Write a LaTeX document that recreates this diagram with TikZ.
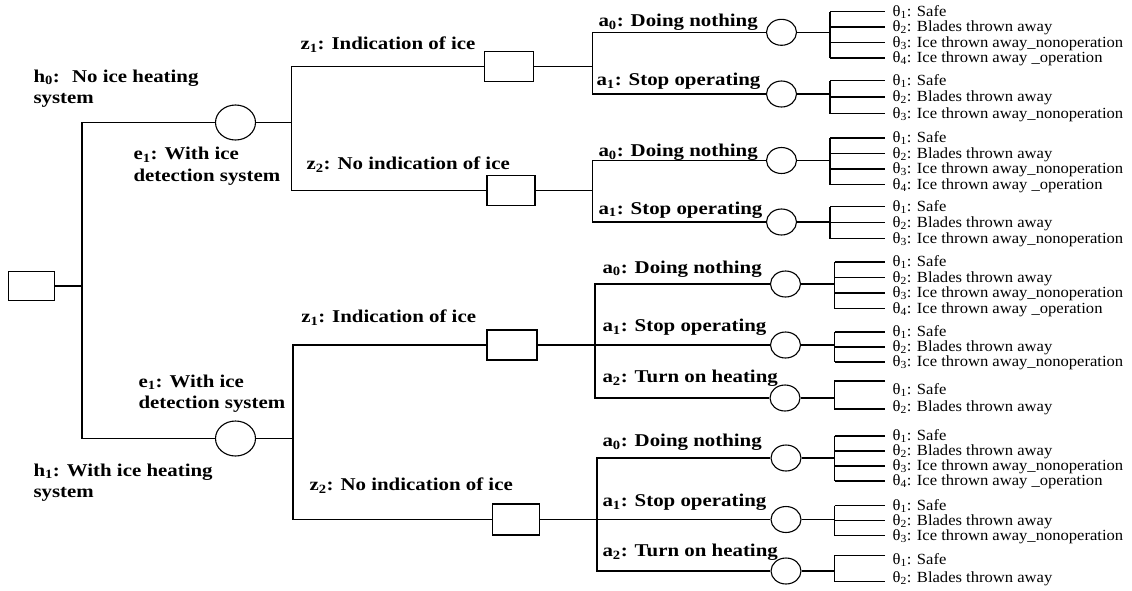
\documentclass[tikz,border=0pt]{standalone}
\usepackage{fontspec}
\setmainfont{Liberation Serif}
\newfontfamily\lblfont[FakeStretch=1.16]{Liberation Serif}
\newfontfamily\thfont[FakeStretch=1.07]{Liberation Serif}
\usetikzlibrary{shapes.geometric}
\newcommand{\thtext}[1]{\ifcase#1\relax\or θ\textsubscript{1}: Safe\or θ\textsubscript{2}: Blades thrown away\or θ\textsubscript{3}: Ice thrown away\_nonoperation\or θ\textsubscript{4}: Ice thrown away \_operation\fi}
\newcommand{\outgrp}[5]{%
  \coordinate (#1b) at (#3,0);
  \foreach \yy [count=\k] in {#4} {\node[th] (#1t\k) at (885,\yy) {\thtext{\k}};}
  \draw (#2) -- (#2 -| #1b);
  \foreach \yy [count=\k] in {#4} {\draw (#1b |- #1t\k.west) -- (#1t\k.west);}
  \draw (#1b |- #1t1.west) -- (#1b |- #1t#5.west);
}
\begin{document}
\begin{tikzpicture}[x=1pt,y=-1pt,line width=1.1pt,
  dec/.style={draw,rectangle,minimum width=48pt,minimum height=30pt,inner sep=0pt},
  bigc/.style={draw,ellipse,minimum width=40pt,minimum height=35pt,inner sep=0pt},
  smc/.style={draw,ellipse,minimum width=30pt,minimum height=26pt,inner sep=0pt},
  lbl/.style={font=\lblfont\bfseries\fontsize{18}{21.6}\selectfont,inner sep=0pt,anchor=base west},
  lbltwo/.style={font=\lblfont\bfseries\fontsize{18}{21.6}\selectfont,inner sep=0pt,anchor=west,align=left},
  th/.style={font=\thfont\fontsize{15.5}{17}\selectfont,anchor=west,inner xsep=7pt,inner ysep=0pt,text height=11pt,text depth=2pt}]
\useasboundingbox (0,0) rectangle (1132,590);
% root
\node[dec,minimum width=46pt,minimum height=29pt] (root) at (31.5,286) {};
\coordinate (j0) at (82,286);
\node[bigc] (eU) at (235.5,122.5) {};
\node[bigc] (eL) at (235.5,438.5) {};
\draw (root) -- (j0);
\draw (eU) -| (j0) |- (eL);
% upper
\coordinate (jU) at (291.7,122.5);
\node[dec,minimum width=49pt] (zU1) at (509,66.7) {};
\node[dec] (zU2) at (511,190.5) {};
\draw (eU) -- (jU);
\draw (zU1) -| (jU) |- (zU2);
\coordinate (jUT) at (592.3,66.7);
\node[smc] (aUT0) at (781.5,32.3) {};
\node[smc] (aUT1) at (781.5,94) {};
\draw (zU1) -- (jUT);
\draw (aUT0) -| (jUT) |- (aUT1);
\coordinate (jUB) at (592.3,190.5);
\node[smc] (aUB0) at (781.5,160.5) {};
\node[smc] (aUB1) at (781.5,222) {};
\draw (zU2) -- (jUB);
\draw (aUB0) -| (jUB) |- (aUB1);
% lower
\coordinate (jL) at (293,438.5);
\node[dec,minimum width=50pt] (zL1) at (512,345) {};
\node[dec,minimum width=47pt,minimum height=31pt] (zL2) at (515.7,519.5) {};
\draw (eL) -- (jL);
\draw (zL1) -| (jL) |- (zL2);
\coordinate (jLT) at (595,345);
\node[smc] (aLT0) at (785.5,284) {};
\node[smc] (aLT1) at (785.5,345) {};
\node[smc] (aLT2) at (785,398) {};
\draw (zL1) -- (aLT1);
\draw (aLT0) -| (jLT) |- (aLT2);
\coordinate (jLB) at (597,519.5);
\node[smc] (aLB0) at (786,458) {};
\node[smc] (aLB1) at (786,519.5) {};
\node[smc] (aLB2) at (786,571) {};
\draw (zL2) -- (aLB1);
\draw (aLB0) -| (jLB) |- (aLB2);
% labels
\node[lbltwo] (lh0) at (33,88.5) {h\textsubscript{0}:~ No ice heating\\system};
\node[lbltwo] (le1U) at (133,166) {e\textsubscript{1}: With ice\\detection system};
\node[lbltwo] (le1L) at (138,393.5) {e\textsubscript{1}: With ice\\detection system};
\node[lbltwo] (lh1) at (33,482.5) {h\textsubscript{1}: With ice heating\\system};
\node[lbl] (lzU1) at (300,49.8) {z\textsubscript{1}: Indication of ice};
\node[lbl] (lzU2) at (306,169.5) {z\textsubscript{2}: No indication of ice};
\node[lbl] (lzL1) at (300.7,322.8) {z\textsubscript{1}: Indication of ice};
\node[lbl] (lzL2) at (309,490.5) {z\textsubscript{2}: No indication of ice};
\node[lbl] (laUT0) at (598,26.5) {a\textsubscript{0}: Doing nothing};
\node[lbl] (laUT1) at (596,85.5) {a\textsubscript{1}: Stop operating};
\node[lbl] (laUB0) at (598,156.7) {a\textsubscript{0}: Doing nothing};
\node[lbl] (laUB1) at (598,214) {a\textsubscript{1}: Stop operating};
\node[lbl] (laLT0) at (602,273) {a\textsubscript{0}: Doing nothing};
\node[lbl] (laLT1) at (602,331.5) {a\textsubscript{1}: Stop operating};
\node[lbl] (laLT2) at (602,382.5) {a\textsubscript{2}: Turn on heating};
\node[lbl] (laLB0) at (602,446.7) {a\textsubscript{0}: Doing nothing};
\node[lbl] (laLB1) at (602,506.7) {a\textsubscript{1}: Stop operating};
\node[lbl] (laLB2) at (602,556.7) {a\textsubscript{2}: Turn on heating};
% outcomes
\outgrp{ga}{aUT0}{830}{11.5,27,42.5,58}{4}
\outgrp{gb}{aUT1}{830}{80.5,97,113.5}{3}
\outgrp{gc}{aUB0}{830}{138,153.5,169,184.5}{4}
\outgrp{gd}{aUB1}{830}{206.5,222.5,238.5}{3}
\outgrp{ge}{aLT0}{834.5}{262,277.5,293,308.5}{4}
\outgrp{gf}{aLT1}{834.5}{332,347,362}{3}
\outgrp{gh}{aLB0}{834.5}{436,451,466,481}{4}
\outgrp{gi}{aLB1}{834.5}{505.5,520.5,535.5}{3}
% two-outcome groups
\node[th] (ggt1) at (885,390) {\thtext{1}};
\node[th] (ggt2) at (885,407) {\thtext{2}};
\coordinate (ggu) at (834.5,381);
\coordinate (ggd) at (834.5,409);
\draw (aLT2) -- (aLT2 -| ggu);
\draw (ggu -| ggt1.west) -- (ggu) -- (ggd) -- (ggd -| ggt2.west);
\node[th] (gjt1) at (885,560) {\thtext{1}};
\node[th] (gjt2) at (885,578) {\thtext{2}};
\coordinate (gju) at (834.5,555.7);
\coordinate (gjd) at (834.5,581.7);
\draw (aLB2) -- (aLB2 -| gju);
\draw (gju -| gjt1.west) -- (gju) -- (gjd) -- (gjd -| gjt2.west);
\end{tikzpicture}
\end{document}
